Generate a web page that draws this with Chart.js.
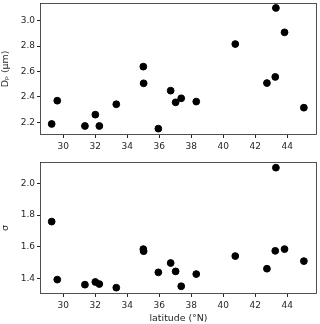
<!DOCTYPE html>
<html>
<head>
<meta charset="utf-8">
<script src="https://cdn.jsdelivr.net/npm/chart.js@4/dist/chart.umd.min.js"></script>
<style>
  html, body { margin: 0; padding: 0; background: #fff; }
  #wrap { position: relative; width: 320px; height: 324px; }
  .panel { position: absolute; left: 0; width: 320px; }
  #top { top: 0; height: 160px; }
  #bottom { top: 160px; height: 164px; }
</style>
</head>
<body>
<div id="wrap">
  <div class="panel" id="top"><canvas id="dpChart" width="320" height="160"></canvas></div>
  <div class="panel" id="bottom"><canvas id="sigmaChart" width="320" height="164"></canvas></div>
</div>
<script>
// ---------------------------------------------------------------------------
// Data
// ---------------------------------------------------------------------------
const latitude = [29.27, 29.62, 31.35, 32.0, 32.25, 33.31, 35.0, 35.02, 35.94, 36.71,
                  37.02, 37.37, 38.31, 40.75, 42.73, 43.25, 43.29, 43.83, 45.04];
const dpValues = [2.187, 2.37, 2.171, 2.26, 2.171, 2.342, 2.638, 2.507, 2.15, 2.449,
                  2.357, 2.389, 2.363, 2.816, 2.509, 2.557, 3.1, 2.908, 2.315];
const sigmaValues = [1.759, 1.392, 1.360, 1.377, 1.364, 1.341, 1.585, 1.572, 1.438, 1.497,
                     1.444, 1.350, 1.427, 1.541, 1.461, 1.574, 2.1, 1.585, 1.509];
const xTicks = [30, 32, 34, 36, 38, 40, 42, 44];
const dpTicks = [2.2, 2.4, 2.6, 2.8, 3.0];
const sigmaTicks = [1.4, 1.6, 1.8, 2.0];

// ---------------------------------------------------------------------------
// Helpers
// ---------------------------------------------------------------------------
const FONT = { family: 'DejaVu Sans', size: 9 };
const TITLE_FONT = { family: 'DejaVu Sans', size: 9.4 };
const INK = '#262626';

// draw a full frame around the plot area (matplotlib style box)
const framePlugin = {
    id: 'frame',
    afterDraw(chart) {
        const { ctx, chartArea: a } = chart;
        ctx.save();
        ctx.strokeStyle = INK;
        ctx.lineWidth = 0.8;
        ctx.strokeRect(a.left + 0.5, a.top + 0.5, a.right - a.left - 1, a.bottom - a.top - 1);
        ctx.restore();
    }
};

const makeScatter = (canvasId, yData, yTicks, yMin, yMax, yTitle, xTitle, xHeight, padTop) => {
    const points = latitude.map((x, i) => ({ x: x, y: yData[i] }));
    return new Chart(document.getElementById(canvasId), {
        type: 'scatter',
        data: {
            datasets: [{
                data: points,
                backgroundColor: '#000',
                borderColor: '#000',
                pointRadius: 3.4,
                pointHoverRadius: 3.4,
            }]
        },
        options: {
            responsive: false,
            animation: false,
            layout: { autoPadding: false, padding: { top: padTop, right: 3, left: 0, bottom: 0 } },
            plugins: { legend: { display: false }, tooltip: { enabled: false } },
            scales: {
                x: {
                    type: 'linear',
                    min: 28.54,
                    max: 45.86,
                    afterBuildTicks: (s) => { s.ticks = xTicks.map(v => ({ value: v })); },
                    afterFit: (s) => {
                        s.height = xHeight;
                        s.paddingLeft = 0;
                        s.paddingRight = 0;
                    },
                    grid: { drawOnChartArea: false, drawTicks: true, tickLength: 3, color: INK },
                    border: { display: false },
                    ticks: { font: FONT, color: INK, padding: 3, maxRotation: 0 },
                    title: {
                        display: !!xTitle,
                        text: xTitle,
                        font: TITLE_FONT,
                        color: INK,
                        padding: { top: 0, bottom: 0 }
                    }
                },
                y: {
                    type: 'linear',
                    min: yMin,
                    max: yMax,
                    afterBuildTicks: (s) => { s.ticks = yTicks.map(v => ({ value: v })); },
                    afterFit: (s) => {
                        s.width = 40;
                        s.paddingTop = 0;
                        s.paddingBottom = 0;
                    },
                    grid: { drawOnChartArea: false, drawTicks: true, tickLength: 3, color: INK },
                    border: { display: false },
                    ticks: { font: FONT, color: INK, padding: 2, callback: (v) => v.toFixed(1) },
                    title: {
                        display: true,
                        text: yTitle,
                        font: TITLE_FONT,
                        color: INK,
                        padding: { top: 0, bottom: 0 }
                    }
                }
            }
        },
        plugins: [framePlugin]
    });
};

// ---------------------------------------------------------------------------
// Init
// ---------------------------------------------------------------------------
makeScatter('dpChart', dpValues, dpTicks, 2.1, 3.139, 'Dₚ (µm)', '', 25, 3);
makeScatter('sigmaChart', sigmaValues, sigmaTicks, 1.301, 2.136, 'σ', 'latitude (°N)', 30, 2);
</script>
</body>
</html>
